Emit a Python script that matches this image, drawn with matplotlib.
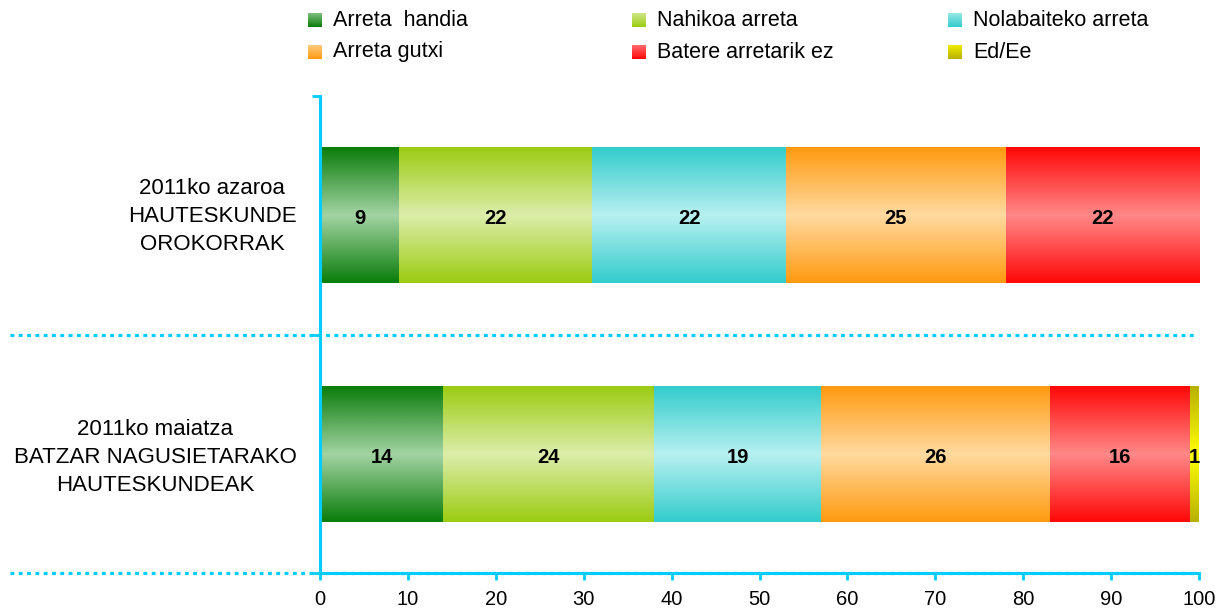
import numpy as np
import matplotlib
matplotlib.use("Agg")
import matplotlib.pyplot as plt
from matplotlib.colors import LinearSegmentedColormap
from matplotlib.transforms import blended_transform_factory
from matplotlib.lines import Line2D

plt.rcParams['font.family'] = ['Liberation Sans', 'DejaVu Sans']

# data
categories = ['2011ko maiatza\nBATZAR NAGUSIETARAKO\nHAUTESKUNDEAK',
              '2011ko azaroa\nHAUTESKUNDE\nOROKORRAK']
series_names = ['Arreta  handia', 'Nahikoa arreta', 'Nolabaiteko arreta',
                'Arreta gutxi', 'Batere arretarik ez', 'Ed/Ee']
arreta_handia = [14, 9]
nahikoa = [24, 22]
nolabaiteko = [19, 22]
gutxi = [26, 25]
batere = [16, 22]
ed_ee = [1, 0]
x_ticks = list(range(0, 101, 10))

series = [arreta_handia, nahikoa, nolabaiteko, gutxi, batere, ed_ee]

# (edge, centre) colours of the vertical gradients
grad_colors = [('#0a7d0a', '#a3d3a3'),
               ('#9ccc12', '#dcedaa'),
               ('#33cccc', '#b8f0f0'),
               ('#ff9a10', '#ffdaa0'),
               ('#ff0808', '#ff8888'),
               ('#b8b000', '#ffff00')]
axis_col = '#00ccff'

fig = plt.figure(figsize=(12.18, 6.13), dpi=100)
ax = fig.add_axes([320/1218, 40/613, 879/1218, 477/613])

prof = np.abs(np.linspace(-1, 1, 200))[:, None]
bar_h = 0.57
for i, vals in enumerate(series):
    cmap = LinearSegmentedColormap.from_list('g%d' % i, [grad_colors[i][1], grad_colors[i][0]])
    for j, v in enumerate(vals):
        if v <= 0:
            continue
        left = sum(s[j] for s in series[:i])
        ax.imshow(prof, extent=[left, left + v, j - bar_h/2, j + bar_h/2],
                  aspect='auto', cmap=cmap, vmin=0, vmax=1,
                  interpolation='bilinear', zorder=2)
        ax.text(left + v/2, j - 0.015, str(v), ha='center', va='center',
                fontsize=14.5, fontweight='bold', color='black', zorder=3)

ax.set_xlim(0, 100)
ax.set_ylim(-0.5, 1.5)

# axes styling
for s in ['top', 'right']:
    ax.spines[s].set_visible(False)
for s in ['left', 'bottom']:
    ax.spines[s].set_color(axis_col)
    ax.spines[s].set_linewidth(2.2)
ax.set_xticks(x_ticks)
ax.tick_params(axis='x', colors=axis_col, labelcolor='black', labelsize=14.5,
               length=5, width=2, direction='out', pad=7)
ax.set_yticks([-0.5, 0.5, 1.5])
ax.set_yticklabels([])
ax.tick_params(axis='y', which='major', colors=axis_col, length=6, width=2)
ax.set_yticks([0.01, 1.02], minor=True)
ax.set_yticklabels(categories, minor=True, fontsize=16, multialignment='center',
                   linespacing=1.45)
ax.tick_params(axis='y', which='minor', length=0, pad=17, labelcolor='black')

# dotted separators reaching into the label area
tr = blended_transform_factory(fig.transFigure, ax.transData)
for yb in [0.5, -0.5]:
    ln = Line2D([10/1218, 1196/1218], [yb, yb], transform=tr, color=axis_col,
                lw=2.3, linestyle=(0, (1.2, 1.4)), dash_capstyle='butt',
                clip_on=False, zorder=1)
    fig.add_artist(ln)

# legend, 3 columns x 2 rows, drawn by hand
col_x = [308, 632, 948]
row_y = [20, 52]
for k, name in enumerate(series_names):
    cx = col_x[k % 3]
    cy = row_y[k // 3]
    lax = fig.add_axes([cx/1218, (613 - cy - 7)/613, 14/1218, 14/613])
    cmap = LinearSegmentedColormap.from_list('l%d' % k, [grad_colors[k][1], grad_colors[k][0]])
    lax.imshow(np.linspace(0, 1, 50)[:, None], aspect='auto', cmap=cmap,
               vmin=-0.3, vmax=1, interpolation='bilinear')
    lax.axis('off')
    fig.text((cx + 25)/1218, (613 - cy)/613, name, fontsize=15.5,
             ha='left', va='center')

fig.savefig('out.png', dpi=100)
